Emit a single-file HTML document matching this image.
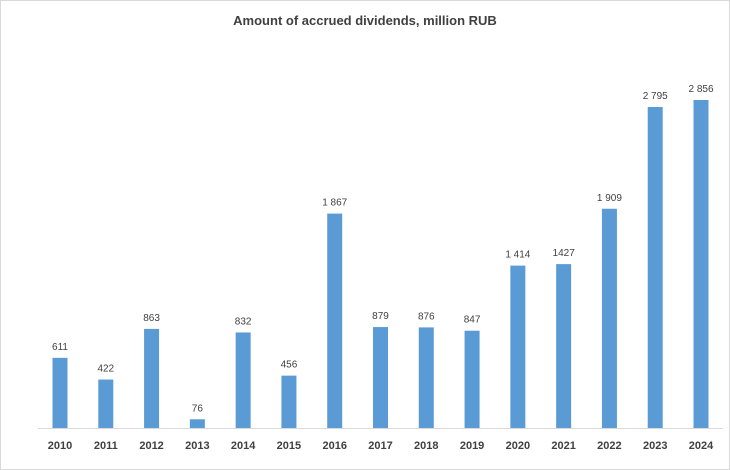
<!DOCTYPE html>
<html><head><meta charset="utf-8"><style>
html,body{margin:0;padding:0;background:#fff;}
svg{display:block;font-family:"Liberation Sans",sans-serif;}
</style></head><body>
<svg width="730" height="470" viewBox="0 0 730 470">
<rect x="0.5" y="0.5" width="729" height="469" fill="#fff" stroke="#d9d9d9"/>
<text x="365" y="25" text-anchor="middle" font-size="13" font-weight="bold" fill="#404040">Amount of accrued dividends, million RUB</text>
<g id="bars"></g>
<line x1="38" y1="428.5" x2="723" y2="428.5" stroke="#d9d9d9"/>
</svg>
<script>
const categories=["2010","2011","2012","2013","2014","2015","2016","2017","2018","2019","2020","2021","2022","2023","2024"];
const values=[611,422,863,76,832,456,1867,879,876,847,1414,1427,1909,2795,2856];
const valueLabels=["611","422","863","76","832","456","1 867","879","876","847","1 414","1427","1 909","2 795","2 856"];
const NS="http://www.w3.org/2000/svg";
const g=document.getElementById('bars');
const base=428, scale=328/2856;
const x=i=>60+i*(701-60)/14;
const y=v=>base-v*scale;
categories.forEach((c,i)=>{
  const r=document.createElementNS(NS,'rect');
  
  
  r.setAttribute('x',x(i)-7.5);r.setAttribute('width',15);
  r.setAttribute('y',y(values[i]));r.setAttribute('height',base-y(values[i]));
  r.setAttribute('fill','#5b9bd5');g.appendChild(r);
  const t=document.createElementNS(NS,'text');
  
  
  t.setAttribute('x',x(i));t.setAttribute('y',y(values[i])-8);
  t.setAttribute('text-anchor','middle');t.setAttribute('font-size','10');t.setAttribute('fill','#404040');
  t.textContent=valueLabels[i];g.appendChild(t);
  const l=document.createElementNS(NS,'text');
  
  
  l.setAttribute('x',x(i));l.setAttribute('y',449);
  l.setAttribute('text-anchor','middle');l.setAttribute('font-size','11');l.setAttribute('font-weight','bold');l.setAttribute('fill','#404040');
  l.textContent=c;g.appendChild(l);
});
</script>
</body></html>
